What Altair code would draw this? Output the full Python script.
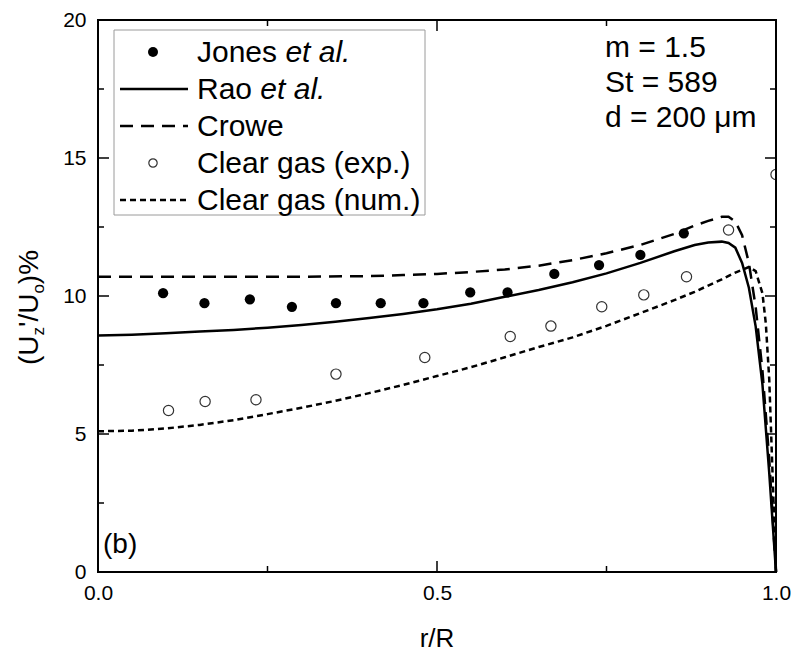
import altair as alt
import pandas as pd

# ---------------- data ----------------
jones_r = [0.096, 0.157, 0.224, 0.286, 0.351, 0.417, 0.480, 0.549, 0.604, 0.673, 0.739, 0.800, 0.864]
jones_u = [10.10, 9.74, 9.88, 9.61, 9.74, 9.74, 9.74, 10.13, 10.13, 10.80, 11.12, 11.49, 12.27]

exp_r = [0.104, 0.158, 0.233, 0.351, 0.482, 0.608, 0.668, 0.743, 0.805, 0.868, 0.930, 1.0]
exp_u = [5.85, 6.18, 6.24, 7.17, 7.77, 8.53, 8.91, 9.61, 10.04, 10.70, 12.39, 14.40]

rao_r = [0, .05, .1, .15, .2, .25, .3, .35, .4, .45, .5, .55, .6, .65, .7, .75, .8, .85,
         .88, .9, .92, .93, .94, .95, .96, .97, .98, .99, 1.0]
rao_u = [8.57, 8.6, 8.65, 8.71, 8.77, 8.85, 8.95, 9.07, 9.2, 9.35, 9.52, 9.72, 9.97, 10.22,
         10.5, 10.82, 11.2, 11.62, 11.85, 11.94, 11.97, 11.92, 11.75, 11.2, 10.3, 8.9, 6.8, 3.6, 0.0]

crowe_r = [0, .1, .2, .3, .4, .45, .5, .55, .6, .65, .7, .75, .8, .85, .88, .9, .92, .93,
           .94, .95, .96, .97, .98, .99, 1.0]
crowe_u = [10.7, 10.7, 10.7, 10.7, 10.72, 10.76, 10.8, 10.87, 10.96, 11.1, 11.3, 11.55, 11.85,
           12.25, 12.55, 12.72, 12.87, 12.87, 12.7, 12.2, 11.2, 9.6, 7.3, 4.1, 0.0]

num_r = [0, .05, .1, .15, .2, .25, .3, .35, .4, .45, .5, .55, .6, .65, .7, .75, .8, .85, .88,
         .9, .92, .94, .96, .97, .98, .985, .99, .995, 1.0]
num_u = [5.1, 5.12, 5.2, 5.33, 5.5, 5.72, 5.95, 6.2, 6.48, 6.78, 7.1, 7.42, 7.78, 8.15, 8.5,
         8.92, 9.38, 9.85, 10.15, 10.38, 10.6, 10.85, 11.05, 10.9, 10.1, 9.0, 7.0, 3.5, 0.0]

x_major = [0.0, 0.5, 1.0]
x_minor = [0.25, 0.75]
y_major = [0, 5, 10, 15, 20]
y_minor = [2.5, 7.5, 12.5, 17.5]

legend_labels = ["Jones", "Rao", "Crowe", "Clear gas (exp.)", "Clear gas (num.)"]
param_labels = ["m = 1.5", "St = 589", "d = 200 \u03bcm"]

# ---------------- layout ----------------
W, H = 678, 552
FONT = "Liberation Sans"

xscale = alt.Scale(domain=[0, 1], nice=False, zero=False)
yscale = alt.Scale(domain=[0, 20], nice=False, zero=False)
X = alt.X("r:Q", scale=xscale,
          axis=alt.Axis(values=x_major, format=".1f", title=None, ticks=False, domain=False,
                        grid=False, labelFontSize=21, labelFont=FONT, labelColor="black",
                        labelPadding=10, labelFlush=False, labelOverlap=False))
Y = alt.Y("u:Q", scale=yscale,
          axis=alt.Axis(values=y_major, title=None, ticks=False, domain=False, grid=False,
                        labelFontSize=21, labelFont=FONT, labelColor="black",
                        labelPadding=12, labelFlush=False, labelOverlap=False))


def df(r, u):
    return pd.DataFrame({"r": r, "u": u})


one = pd.DataFrame({"a": [0]})

layers = []

# curves
layers.append(alt.Chart(df(num_r, num_u)).mark_line(color="black", strokeWidth=2.5,
                                                    strokeDash=[6, 4]).encode(x=X, y=Y, order="r:Q"))
layers.append(alt.Chart(df(crowe_r, crowe_u)).mark_line(color="black", strokeWidth=2.5,
                                                        strokeDash=[13, 8]).encode(x=X, y=Y, order="r:Q"))
layers.append(alt.Chart(df(rao_r, rao_u)).mark_line(color="black", strokeWidth=2.5).encode(x=X, y=Y, order="r:Q"))

# points
layers.append(alt.Chart(df(jones_r, jones_u)).mark_point(shape="circle", filled=True, color="black",
                                                         size=105, opacity=1).encode(x=X, y=Y))
layers.append(alt.Chart(df(exp_r, exp_u)).mark_point(shape="circle", filled=False, color="#333333",
                                                     strokeWidth=1.2, size=105, opacity=1,
                                                     clip=True).encode(x=X, y=Y))

# inward ticks on all four sides
def xticks(vals, ln):
    d = pd.DataFrame({"r": vals})
    b = alt.Chart(d).mark_rule(color="black", strokeWidth=1.5).encode(
        x=X, y=alt.value(H), y2=alt.value(H - ln))
    t = alt.Chart(d).mark_rule(color="black", strokeWidth=1.5).encode(
        x=X, y=alt.value(0), y2=alt.value(ln))
    return [b, t]


def yticks(vals, ln):
    d = pd.DataFrame({"u": vals})
    l = alt.Chart(d).mark_rule(color="black", strokeWidth=1.5).encode(
        y=Y, x=alt.value(0), x2=alt.value(ln))
    r = alt.Chart(d).mark_rule(color="black", strokeWidth=1.5).encode(
        y=Y, x=alt.value(W), x2=alt.value(W - ln))
    return [l, r]


layers += xticks(x_major, 11) + xticks(x_minor, 6) + yticks(y_major, 11) + yticks(y_minor, 6)

# legend box
layers.append(alt.Chart(one).mark_rect(fill="white", stroke="#9a9a9a", strokeWidth=1).encode(
    x=alt.value(16), x2=alt.value(327), y=alt.value(10), y2=alt.value(195)))

LFS = 30
base0, step = 42, 37
sym_x = 55
txt_x = 99
rows = [base0 + i * step for i in range(5)]


def text(s, x, y, size=LFS, style="normal", align="left", angle=0, baseline="alphabetic"):
    kw = dict(font=FONT, fontSize=size, fontStyle=style, align=align, baseline=baseline,
              color="black")
    if angle:
        kw["angle"] = angle
    return alt.Chart(one).mark_text(**kw).encode(x=alt.value(x), y=alt.value(y), text=alt.value(s))


# symbols
layers.append(alt.Chart(one).mark_point(shape="circle", filled=True, color="black", size=100,
                                        opacity=1).encode(x=alt.value(sym_x), y=alt.value(rows[0] - 10)))
layers.append(alt.Chart(one).mark_rule(color="black", strokeWidth=2.5).encode(
    x=alt.value(22), x2=alt.value(90), y=alt.value(rows[1] - 10)))
layers.append(alt.Chart(one).mark_rule(color="black", strokeWidth=2.5, strokeDash=[13, 8]).encode(
    x=alt.value(22), x2=alt.value(90), y=alt.value(rows[2] - 10)))
layers.append(alt.Chart(one).mark_point(shape="circle", filled=False, color="#333333", strokeWidth=1.2,
                                        size=70, opacity=1).encode(x=alt.value(sym_x), y=alt.value(rows[3] - 10)))
layers.append(alt.Chart(one).mark_rule(color="black", strokeWidth=2.5, strokeDash=[6, 4]).encode(
    x=alt.value(22), x2=alt.value(90), y=alt.value(rows[4] - 10)))

# legend texts
layers.append(text(legend_labels[0], txt_x, rows[0]))
layers.append(text("et al.", txt_x + 2.946 * LFS, rows[0], style="italic"))
layers.append(text(legend_labels[1], txt_x, rows[1]))
layers.append(text("et al.", txt_x + 2.112 * LFS, rows[1], style="italic"))
layers.append(text(legend_labels[2], txt_x, rows[2]))
layers.append(text(legend_labels[3], txt_x, rows[3]))
layers.append(text(legend_labels[4], txt_x, rows[4]))

# parameter texts
for i, s in enumerate(param_labels):
    layers.append(text(s, 507, 37 + 35 * i))

# panel label
layers.append(text("(b)", 5, 533, size=28))

# x title
layers.append(text("r/R", W / 2, 627, size=26, align="center"))

# y title with subscripts (rotated)
TFS, SFS = 28, 17
ybase = -60
y0 = 345  # bottom start (plot coords)
parts = [("(U", TFS, 0, (0.333 + 0.722) * TFS),
         ("z", SFS, 6, 0.5 * SFS),
         ("'/U", TFS, 0, (0.191 + 0.278 + 0.722) * TFS),
         ("o", SFS, 6, 0.556 * SFS),
         (")%", TFS, 0, (0.333 + 0.889) * TFS)]
cur = y0
for s, fs, off, w in parts:
    layers.append(text(s, ybase + off, cur, size=fs, angle=270))
    cur -= w

# frame on top
layers.append(alt.Chart(one).mark_rect(filled=False, stroke="black", strokeWidth=2, fill=None).encode(
    x=alt.value(0), x2=alt.value(W), y=alt.value(0), y2=alt.value(H)))

chart = alt.layer(*layers).properties(
    width=W, height=H,
    padding={"left": 98, "top": 20, "right": 796 - 98 - W, "bottom": 655 - 20 - H},
    autosize=alt.AutoSizeParams(type="none"),
    background="white",
).configure_view(stroke=None)

chart.save("out.html", embed_options={"renderer": "svg", "actions": False})
